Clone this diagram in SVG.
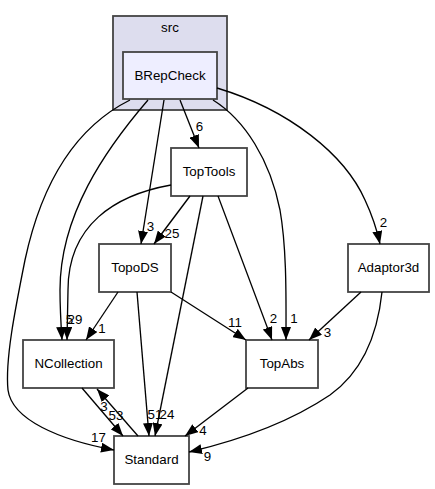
<svg xmlns="http://www.w3.org/2000/svg" width="435" height="489" viewBox="0 0 435 489">
<style>
text{font-family:"Liberation Sans",Arial,sans-serif;font-size:13.33px;fill:#000}
.n{text-anchor:middle}
.box{fill:#fff;stroke:#444;stroke-width:1.8}
.e{fill:none;stroke:#000;stroke-width:1.33;marker-end:url(#ah)}
.lbl{text-anchor:middle}
</style>
<defs>
<marker id="ah" markerUnits="userSpaceOnUse" viewBox="0 0 13 10" refX="13" refY="5" markerWidth="13" markerHeight="10" orient="auto">
<path d="M0,0 L13,5 L0,10 Z" fill="#000"/>
</marker>
</defs>
<rect width="435" height="489" fill="#fff"/>
<g id="cluster_src">
<rect x="113" y="16" width="114" height="94" fill="#ddddee" stroke="#444" stroke-width="1.8"/>
<text class="n" x="170" y="31.5">src</text>
</g>
<g id="BRepCheck">
<rect class="box" x="123" y="52" width="94" height="47" style="fill:#eeeeff"/>
<text class="n" x="170" y="80">BRepCheck</text>
</g>
<g id="TopTools">
<rect class="box" x="171" y="148" width="76" height="48"/>
<text class="n" x="209" y="176">TopTools</text>
</g>
<g id="TopoDS">
<rect class="box" x="99" y="244" width="72" height="48"/>
<text class="n" x="135" y="272">TopoDS</text>
</g>
<g id="Adaptor3d">
<rect class="box" x="348" y="244" width="81" height="48"/>
<text class="n" x="388.5" y="272">Adaptor3d</text>
</g>
<g id="NCollection">
<rect class="box" x="23" y="340" width="91" height="48"/>
<text class="n" x="68.5" y="368">NCollection</text>
</g>
<g id="TopAbs">
<rect class="box" x="246" y="340" width="72" height="48"/>
<text class="n" x="282" y="368">TopAbs</text>
</g>
<g id="Standard">
<rect class="box" x="114" y="436" width="75" height="48"/>
<text class="n" x="151.5" y="464">Standard</text>
</g>
<g id="connectors">
<path class="e" d="M180,100 L199,148"/>
<text class="lbl" x="199.5" y="131">6</text>
<path class="e" d="M164,100 L141,244"/>
<text class="lbl" x="150.5" y="231">3</text>
<path class="e" d="M148,100 C105,150 60,215 60,290 C60,310 61,325 62,340"/>
<text class="lbl" x="69.5" y="324">5</text>
<path class="e" d="M171,185 C115,195 68,225 68,290 L67,340"/>
<text class="lbl" x="75" y="324">29</text>
<path class="e" d="M130,100 C70,130 40,190 25,260 C15,310 5,360 8,390 C12,420 60,440 114,450"/>
<text class="lbl" x="98.5" y="442">17</text>
<path class="e" d="M213,100 C245,120 270,160 280,210 C287,250 286,300 286,340"/>
<text class="lbl" x="294" y="323">1</text>
<path class="e" d="M217,88 C290,110 345,155 365,200 C372,215 377,230 380,244"/>
<text class="lbl" x="383.5" y="227">2</text>
<path class="e" d="M190,196 L154,244"/>
<text class="lbl" x="172" y="238">25</text>
<path class="e" d="M218,196 L272,340"/>
<text class="lbl" x="273.5" y="323">2</text>
<path class="e" d="M203,196 L155,436"/>
<text class="lbl" x="167" y="419">24</text>
<path class="e" d="M118,292 L86,340"/>
<text class="lbl" x="102" y="333">1</text>
<path class="e" d="M137,292 L149,436"/>
<text class="lbl" x="155" y="419">51</text>
<path class="e" d="M171,292 L246,340"/>
<text class="lbl" x="235" y="327">11</text>
<path class="e" d="M361,292 L309,340"/>
<text class="lbl" x="327.5" y="337">3</text>
<path class="e" d="M382,292 C378,330 365,370 330,395 C290,422 240,440 189,452"/>
<text class="lbl" x="207.5" y="461">9</text>
<path class="e" d="M248,388 L185,436"/>
<text class="lbl" x="203" y="435">4</text>
<path class="e" d="M82,388 L123,436"/>
<text class="lbl" x="116" y="420">53</text>
<path class="e" d="M138,436 L97,389"/>
<text class="lbl" x="104" y="411">3</text>
</g>
</svg>
